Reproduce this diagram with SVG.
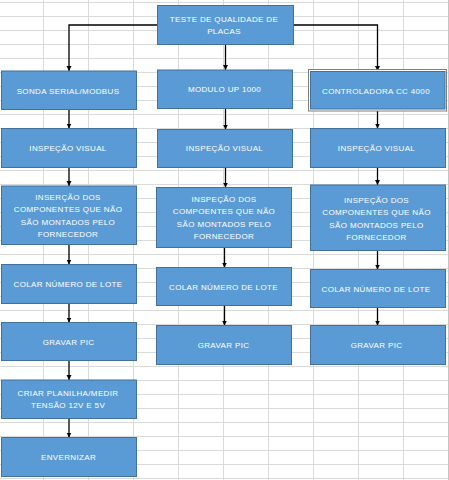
<svg xmlns="http://www.w3.org/2000/svg" width="449" height="480" viewBox="0 0 449 480">
<style>
.box{fill:#5b9bd5;stroke:#41719c;stroke-width:1}
.t{font-family:"Liberation Sans",Arial,sans-serif;font-size:8px;fill:#ffffff;letter-spacing:0.35px;text-anchor:middle}
.c{fill:none;stroke:#000000;stroke-width:1.3}
</style>
<defs>
<pattern id="grid" x="43" y="2" width="45" height="14" patternUnits="userSpaceOnUse">
<path d="M0,0.5 H45 M0.5,0 V14" stroke="#dadada" stroke-width="1" fill="none"/>
</pattern>
<marker id="arr" markerUnits="userSpaceOnUse" markerWidth="6" markerHeight="6" refX="5" refY="3" orient="auto">
<path d="M0,0.5 L5,3 L0,5.5 z" fill="#000000"/>
</marker>
</defs>
<rect x="0" y="0" width="449" height="480" fill="#ffffff"/>
<rect x="0" y="0" width="449" height="480" fill="url(#grid)"/>
<line x1="448.5" y1="0" x2="448.5" y2="480" stroke="#c4c4c4"/>

<g id="connectors">
<path class="c" d="M157.5,25 H69 V71" marker-end="url(#arr)"/>
<path class="c" d="M225.5,44.5 V70" marker-end="url(#arr)"/>
<path class="c" d="M293.5,25 H377.5 V71" marker-end="url(#arr)"/>
<path class="c" d="M69,109.5 V128.5" marker-end="url(#arr)"/>
<path class="c" d="M69,167.5 V186" marker-end="url(#arr)"/>
<path class="c" d="M69,244.5 V264.5" marker-end="url(#arr)"/>
<path class="c" d="M69,303.5 V322.5" marker-end="url(#arr)"/>
<path class="c" d="M69,360.5 V380" marker-end="url(#arr)"/>
<path class="c" d="M69,418.5 V437.5" marker-end="url(#arr)"/>
<path class="c" d="M225.5,108.5 V129.5" marker-end="url(#arr)"/>
<path class="c" d="M225.5,167.5 V187.5" marker-end="url(#arr)"/>
<path class="c" d="M224.5,247.5 V267.5" marker-end="url(#arr)"/>
<path class="c" d="M224.5,305.5 V325.5" marker-end="url(#arr)"/>
<path class="c" d="M377.5,111 V128.5" marker-end="url(#arr)"/>
<path class="c" d="M377.5,167.5 V185" marker-end="url(#arr)"/>
<path class="c" d="M377.5,250.5 V269.5" marker-end="url(#arr)"/>
<path class="c" d="M377.5,307.5 V325.5" marker-end="url(#arr)"/>
</g>

<g id="teste">
<rect class="box" x="157.5" y="5.5" width="136" height="39"/>
<text class="t" x="224" y="22">TESTE DE QUALIDADE DE</text>
<text class="t" x="224" y="33.6">PLACAS</text>
</g>

<g id="sonda">
<rect class="box" x="1.5" y="71" width="135" height="38.5"/>
<text class="t" x="68" y="93.6">SONDA SERIAL/MODBUS</text>
</g>
<g id="modulo">
<rect class="box" x="157.5" y="70" width="135" height="38.5"/>
<text class="t" x="224.5" y="92.2">MODULO UP 1000</text>
</g>
<g id="controladora">
<rect x="308.5" y="69.5" width="138" height="41.5" fill="#ffffff" stroke="#7f7f7f" stroke-width="1"/>
<rect class="box" x="310.5" y="71.5" width="134.5" height="37.5"/>
<text class="t" x="376" y="93.6">CONTROLADORA CC 4000</text>
</g>

<g id="insp1">
<rect class="box" x="1.5" y="128.5" width="135" height="39"/>
<text class="t" x="68" y="151.2">INSPEÇÃO VISUAL</text>
</g>
<g id="insp2">
<rect class="box" x="157.5" y="129.5" width="135" height="38"/>
<text class="t" x="224.5" y="151.2">INSPEÇÃO VISUAL</text>
</g>
<g id="insp3">
<rect class="box" x="310.5" y="128.5" width="135" height="39"/>
<text class="t" x="376.5" y="151.2">INSPEÇÃO VISUAL</text>
</g>

<g id="comp1">
<rect class="box" x="1.5" y="186" width="135" height="58.5"/>
<text class="t" x="68" y="200.2">INSERÇÃO DOS</text>
<text class="t" x="68" y="212.2">COMPONENTES QUE NÃO</text>
<text class="t" x="68" y="224.6">SÃO MONTADOS PELO</text>
<text class="t" x="68" y="236.9">FORNECEDOR</text>
</g>
<g id="comp2">
<rect class="box" x="156.5" y="187.5" width="135" height="60"/>
<text class="t" x="224" y="202.2">INSPEÇÃO DOS</text>
<text class="t" x="224" y="213.6">COMPOENTES QUE NÃO</text>
<text class="t" x="224" y="226.6">SÃO MONTADOS PELO</text>
<text class="t" x="224" y="238.6">FORNECEDOR</text>
</g>
<g id="comp3">
<rect class="box" x="310.5" y="185" width="135" height="65.5"/>
<text class="t" x="376.5" y="202.9">INSPEÇÃO DOS</text>
<text class="t" x="376.5" y="214.6">COMPONENTES QUE NÃO</text>
<text class="t" x="376.5" y="227.6">SÃO MONTADOS PELO</text>
<text class="t" x="376.5" y="239.6">FORNECEDOR</text>
</g>

<g id="lote1">
<rect class="box" x="1.5" y="264.5" width="135" height="39"/>
<text class="t" x="68" y="286.9">COLAR NÚMERO DE LOTE</text>
</g>
<g id="lote2">
<rect class="box" x="156.5" y="267.5" width="135" height="38"/>
<text class="t" x="223.5" y="289.6">COLAR NÚMERO DE LOTE</text>
</g>
<g id="lote3">
<rect class="box" x="310.5" y="269.5" width="135" height="38"/>
<text class="t" x="376" y="291.9">COLAR NÚMERO DE LOTE</text>
</g>

<g id="pic1">
<rect class="box" x="1.5" y="322.5" width="135" height="38"/>
<text class="t" x="68.5" y="344.6">GRAVAR PIC</text>
</g>
<g id="pic2">
<rect class="box" x="156.5" y="325.5" width="135" height="39"/>
<text class="t" x="223.5" y="347.9">GRAVAR PIC</text>
</g>
<g id="pic3">
<rect class="box" x="310.5" y="325.5" width="135" height="39"/>
<text class="t" x="376.5" y="347.9">GRAVAR PIC</text>
</g>

<g id="planilha">
<rect class="box" x="1.5" y="380" width="135" height="38.5"/>
<text class="t" x="68" y="396.2">CRIAR PLANILHA/MEDIR</text>
<text class="t" x="68" y="407.9">TENSÃO 12V E 5V</text>
</g>
<g id="envernizar">
<rect class="box" x="1.5" y="437.5" width="135" height="39"/>
<text class="t" x="68.5" y="459.9">ENVERNIZAR</text>
</g>
</svg>
